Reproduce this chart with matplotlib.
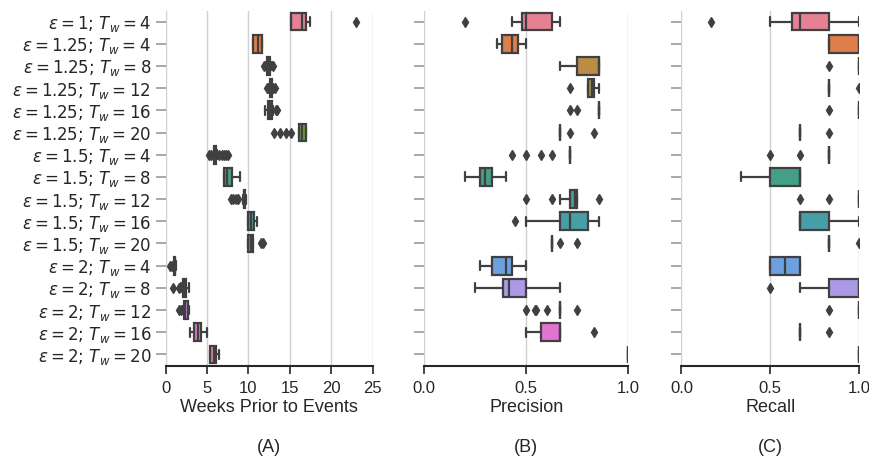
import colorsys
import matplotlib
matplotlib.use("Agg")
import matplotlib.pyplot as plt
import seaborn as sns

sns.set_style("ticks")

eps = ["1", "1.25", "1.25", "1.25", "1.25", "1.25", "1.5", "1.5", "1.5", "1.5", "1.5",
       "2", "2", "2", "2", "2"]
tw = [4, 4, 8, 12, 16, 20, 4, 8, 12, 16, 20, 4, 8, 12, 16, 20]
labels = [r"$\varepsilon = %s$; $T_w = %d$" % (e, t) for e, t in zip(eps, tw)]

# (whislo, q1, med, q3, whishi) per row
weeks_box = [
    (15.2, 15.2, 16.5, 16.9, 17.4),
    (10.5, 10.6, 11.1, 11.6, 11.7),
    (12.1, 12.3, 12.4, 12.6, 12.8),
    (12.5, 12.6, 12.7, 12.8, 12.9),
    (12.0, 12.4, 12.6, 12.8, 13.0),
    (16.1, 16.1, 16.5, 16.9, 16.9),
    (5.8, 5.9, 6.0, 6.1, 6.2),
    (7.1, 7.1, 7.45, 8.05, 8.95),
    (9.4, 9.45, 9.5, 9.6, 9.7),
    (9.9, 10.0, 10.3, 10.7, 11.0),
    (10.0, 10.0, 10.3, 10.6, 10.6),
    (1.0, 1.05, 1.1, 1.15, 1.2),
    (1.9, 2.05, 2.2, 2.5, 2.8),
    (2.1, 2.2, 2.4, 2.7, 2.8),
    (2.9, 3.4, 3.9, 4.3, 5.0),
    (5.35, 5.4, 5.8, 6.1, 6.45),
]
weeks_fliers = [
    [23.0], [], [11.9, 13.0], [12.3, 13.0, 13.2], [13.3, 13.5], [13.1, 13.8, 14.5, 15.1],
    [5.2, 5.5, 6.5, 6.8, 7.0, 7.3, 7.5], [], [7.9, 8.2, 8.5, 8.7], [], [11.5, 11.8],
    [0.5, 0.8], [0.85, 1.6], [1.6, 1.8], [], [],
]

precision_box = [
    (0.43, 0.48, 0.5, 0.625, 0.667),
    (0.357, 0.383, 0.429, 0.462, 0.5),
    (0.667, 0.75, 0.857, 0.857, 0.857),
    (0.8, 0.8, 0.82, 0.833, 0.857),
    (0.857, 0.857, 0.857, 0.857, 0.857),
    (0.667, 0.667, 0.667, 0.667, 0.667),
    (0.714, 0.714, 0.714, 0.714, 0.714),
    (0.2, 0.273, 0.3, 0.333, 0.4),
    (0.667, 0.714, 0.74, 0.75, 0.75),
    (0.5, 0.667, 0.714, 0.8, 0.857),
    (0.625, 0.625, 0.625, 0.625, 0.625),
    (0.273, 0.333, 0.4, 0.429, 0.5),
    (0.25, 0.385, 0.417, 0.5, 0.667),
    (0.667, 0.667, 0.667, 0.667, 0.667),
    (0.5, 0.571, 0.667, 0.667, 0.667),
    (1.0, 1.0, 1.0, 1.0, 1.0),
]
precision_fliers = [
    [0.2], [], [], [0.714], [0.714, 0.75], [0.714, 0.833],
    [0.429, 0.5, 0.571, 0.625], [], [0.5, 0.625, 0.857], [0.444], [0.667, 0.75],
    [], [], [0.5, 0.545, 0.55, 0.6, 0.75], [0.833], [],
]

recall_box = [
    (0.5, 0.625, 0.667, 0.833, 1.0),
    (0.833, 0.833, 1.0, 1.0, 1.0),
    (1.0, 1.0, 1.0, 1.0, 1.0),
    (0.833, 0.833, 0.833, 0.833, 0.833),
    (1.0, 1.0, 1.0, 1.0, 1.0),
    (0.667, 0.667, 0.667, 0.667, 0.667),
    (0.833, 0.833, 0.833, 0.833, 0.833),
    (0.333, 0.5, 0.667, 0.667, 0.667),
    (1.0, 1.0, 1.0, 1.0, 1.0),
    (0.667, 0.667, 0.667, 0.833, 1.0),
    (0.833, 0.833, 0.833, 0.833, 0.833),
    (0.5, 0.5, 0.583, 0.667, 0.667),
    (0.667, 0.833, 1.0, 1.0, 1.0),
    (1.0, 1.0, 1.0, 1.0, 1.0),
    (0.667, 0.667, 0.667, 0.667, 0.667),
    (1.0, 1.0, 1.0, 1.0, 1.0),
]
recall_fliers = [
    [0.167], [], [0.833], [1.0], [0.833], [0.833],
    [0.5, 0.667], [], [0.667, 0.833], [], [1.0],
    [], [0.5], [0.833], [0.833], [],
]

xlabels = ["Weeks Prior to Events", "Precision", "Recall"]
panel_tags = ["(A)", "(B)", "(C)"]

pal = [sns.desaturate(c, 0.75) for c in sns.color_palette("husl", len(labels))]
lum = min(colorsys.rgb_to_hls(*c)[1] for c in pal) * 0.6
gray = (lum, lum, lum)

arial = ["Liberation Sans", "Arial", "DejaVu Sans"]

fig = plt.figure(figsize=(8.7, 4.57), dpi=100)
W, H = 870.0, 457.0
pos = [(165.6, 207.0), (424.0, 204.5), (681.5, 177.5)]
top, bot = 10.5, 365.5

panels = [(weeks_box, weeks_fliers, (0, 25), [0, 5, 10, 15, 20, 25]),
          (precision_box, precision_fliers, (0, 1), [0.0, 0.5, 1.0]),
          (recall_box, recall_fliers, (0, 1), [0.0, 0.5, 1.0])]

for i, (boxes, fl, xlim, xt) in enumerate(panels):
    x0, w = pos[i]
    ax = fig.add_axes([x0 / W, 1 - bot / H, w / W, (bot - top) / H])
    stats = []
    for b, f in zip(boxes, fl):
        stats.append(dict(whislo=b[0], q1=b[1], med=b[2], q3=b[3], whishi=b[4], fliers=f))
    art = ax.bxp(stats, positions=range(len(stats)), widths=0.8, vert=False,
                 patch_artist=True, showfliers=True,
                 boxprops=dict(edgecolor=gray, linewidth=1.6),
                 medianprops=dict(color=gray, linewidth=1.6),
                 whiskerprops=dict(color=gray, linewidth=1.6),
                 capprops=dict(color=gray, linewidth=1.6),
                 flierprops=dict(marker="d", markerfacecolor=gray, markeredgecolor=gray,
                                 markersize=5, linestyle="none"))
    for patch, c in zip(art["boxes"], pal):
        patch.set_facecolor(c)
    ax.set_ylim(len(stats) - 0.5, -0.5)
    ax.set_xlim(*xlim)
    ax.set_xticks(xt)
    ax.set_xticklabels([("%g" % v) if i == 0 else ("%.1f" % v) for v in xt],
                       family=arial, fontsize=12, color="#262626")
    ax.set_yticks(range(len(stats)))
    if i == 0:
        ax.set_yticklabels(labels, fontsize=12, color="#262626")
    else:
        ax.set_yticklabels([])
    ax.tick_params(axis="y", length=7, color="#999999", width=1.2)
    ax.tick_params(axis="x", length=6, color="#262626", width=1.2, pad=5)
    ax.xaxis.grid(True, color="#d0d0d0", linewidth=1)
    ax.set_axisbelow(True)
    for s in ["left", "top", "right"]:
        ax.spines[s].set_visible(False)
    ax.spines["bottom"].set_linewidth(1.5)
    ax.spines["bottom"].set_color("#262626")
    ax.set_xlabel(xlabels[i], family=arial, fontsize=13, color="#262626", labelpad=2)
    fig.text((x0 + w / 2) / W, 1 - 447 / H, panel_tags[i], family=arial, fontsize=13,
             ha="center", va="center", color="#262626")

fig.savefig("out.png", dpi=100)
